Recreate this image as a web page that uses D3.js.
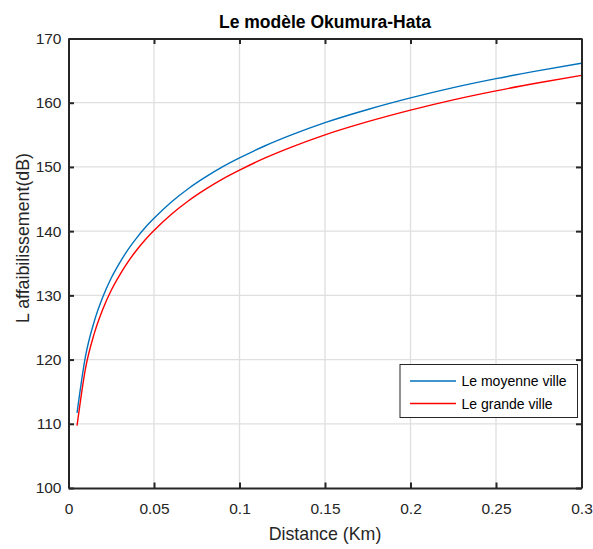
<!DOCTYPE html>
<html>
<head>
<meta charset="utf-8">
<script src="https://cdn.jsdelivr.net/npm/d3@7"></script>
<style>
  html, body { margin: 0; padding: 0; background: #fff; }
  svg { display: block; font-family: "Liberation Sans", Arial, Helvetica, sans-serif; }
</style>
</head>
<body>
<svg id="chart" width="593" height="549"></svg>
<script>
// Path loss (dB) versus distance (km), Okumura-Hata model
const distances = [0.005, 0.01, 0.015, 0.02, 0.025, 0.03, 0.035, 0.04, 0.045, 0.05, 0.06, 0.07, 0.08, 0.09,
                   0.1, 0.115, 0.13, 0.15, 0.175, 0.2, 0.225, 0.25, 0.275, 0.3];
const moyenneVille = [111.7, 120.6, 125.9, 129.7, 132.7, 135.1, 137.2, 139.0, 140.6, 142.0, 144.5, 146.6, 148.4, 150.0,
                      151.4, 153.3, 154.95, 156.9, 158.95, 160.75, 162.35, 163.75, 165.0, 166.15];
const grandeVille  = [109.7, 118.7, 124.0, 127.8, 130.8, 133.2, 135.3, 137.1, 138.7, 140.1, 142.6, 144.7, 146.5, 148.1,
                      149.5, 151.4, 153.05, 155.0, 157.05, 158.85, 160.45, 161.85, 163.1, 164.25];
const seriesNames = ["Le moyenne ville", "Le grande ville"];
const xTicks = [0, 0.05, 0.1, 0.15, 0.2, 0.25, 0.3];
const xTickLabels = ["0", "0.05", "0.1", "0.15", "0.2", "0.25", "0.3"];
const yTicks = [100, 110, 120, 130, 140, 150, 160, 170];

const svg = d3.select("#chart");
const plotLeft = 68.5, plotRight = 581.5, plotTop = 38.5, plotBottom = 488;
const axisColor = "#262626";

const x = d3.scaleLinear().domain([0, 0.3]).range([plotLeft, plotRight]);
const y = d3.scaleLinear().domain([100, 170]).range([plotBottom, plotTop]);

// grid
const grid = svg.append("g");
grid.selectAll("line.gx").data(xTicks.slice(1, -1)).join("line")
  .attr("x1", d => x(d)).attr("x2", d => x(d)).attr("y1", plotTop).attr("y2", plotBottom)
  .attr("stroke", "#dfdfdf").attr("stroke-width", 1.3);
grid.selectAll("line.gy").data(yTicks.slice(1, -1)).join("line")
  .attr("y1", d => y(d)).attr("y2", d => y(d)).attr("x1", plotLeft).attr("x2", plotRight)
  .attr("stroke", "#dfdfdf").attr("stroke-width", 1.3);

// series
const line = d3.line().x(d => x(d[0])).y(d => y(d[1])).curve(d3.curveMonotoneX);
const series = [
  { name: seriesNames[0], values: moyenneVille, color: "#0072BD" },
  { name: seriesNames[1], values: grandeVille, color: "#FF0000" }
];
svg.append("g").selectAll("path").data(series).join("path")
  .attr("d", s => line(distances.map((d, i) => [d, s.values[i]])))
  .attr("fill", "none").attr("stroke", s => s.color).attr("stroke-width", 1.4);

// axes: bottom/left with labels, top/right mirrored ticks, all inward
const tickLen = 5.5;
const xAxisB = d3.axisBottom(x).tickValues(xTicks).tickSizeInner(-tickLen).tickSizeOuter(0)
  .tickPadding(14.5).tickFormat((d, i) => xTickLabels[i]);
const xAxisT = d3.axisTop(x).tickValues(xTicks).tickSizeInner(-tickLen).tickSizeOuter(0).tickFormat("");
const yAxisL = d3.axisLeft(y).tickValues(yTicks).tickSizeInner(-tickLen).tickSizeOuter(0)
  .tickPadding(7).tickFormat(d3.format("d"));
const yAxisR = d3.axisRight(y).tickValues(yTicks).tickSizeInner(-tickLen).tickSizeOuter(0).tickFormat("");

function styleAxis(g) {
  g.select(".domain").attr("stroke", axisColor).attr("stroke-width", 2);
  g.selectAll(".tick line").attr("stroke", axisColor).attr("stroke-width", 2);
  g.selectAll(".tick text").attr("fill", axisColor).style("font-size", "15.5px")
    .style("font-family", "'Liberation Sans', Arial, sans-serif");
}
svg.append("g").attr("transform", `translate(0,${plotBottom})`).call(xAxisB).call(styleAxis);
svg.append("g").attr("transform", `translate(0,${plotTop})`).call(xAxisT).call(styleAxis);
svg.append("g").attr("transform", `translate(${plotLeft},0)`).call(yAxisL).call(styleAxis);
svg.append("g").attr("transform", `translate(${plotRight},0)`).call(yAxisR).call(styleAxis);

// title and axis labels
svg.append("text").attr("x", (plotLeft + plotRight) / 2).attr("y", 28.3)
  .attr("text-anchor", "middle").attr("font-weight", "bold").attr("font-size", 17.5)
  .attr("fill", "#000").text("Le modèle Okumura-Hata");
svg.append("text").attr("x", (plotLeft + plotRight) / 2).attr("y", 540)
  .attr("text-anchor", "middle").attr("font-size", 17.8).attr("fill", axisColor)
  .text("Distance (Km)");
svg.append("text").attr("transform", "translate(28.5,238) rotate(-90)")
  .attr("text-anchor", "middle").attr("font-size", 17.8).attr("fill", axisColor)
  .text("L affaibilissement(dB)");

// legend
const lg = svg.append("g");
lg.append("rect").attr("x", 400).attr("y", 364.5).attr("width", 177.5).attr("height", 53)
  .attr("fill", "#fff").attr("stroke", axisColor).attr("stroke-width", 1);
series.forEach((s, i) => {
  const cy = 381 + i * 22.5;
  lg.append("line").attr("x1", 410).attr("x2", 456).attr("y1", cy).attr("y2", cy)
    .attr("stroke", s.color).attr("stroke-width", 1.4);
  lg.append("text").attr("x", 461.5).attr("y", cy + 5).attr("font-size", 14)
    .attr("fill", "#000").text(s.name);
});
</script>
</body>
</html>
